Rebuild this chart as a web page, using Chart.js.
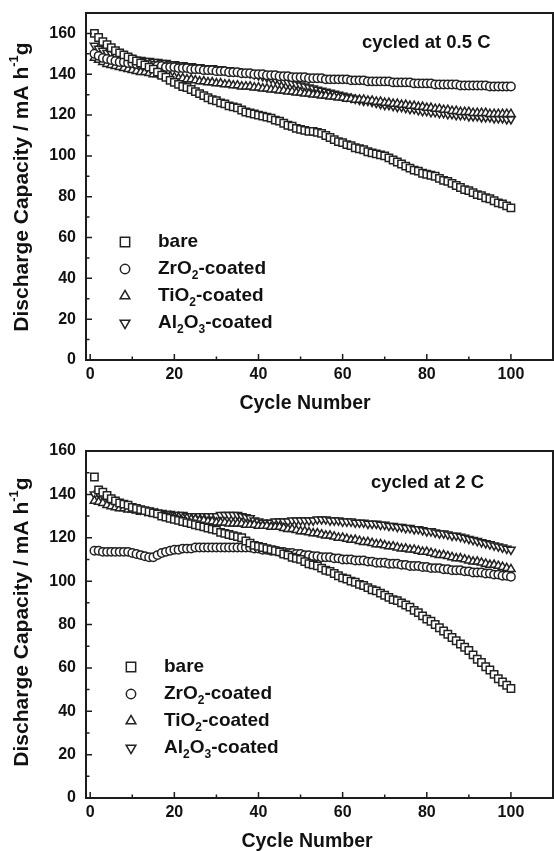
<!DOCTYPE html>
<html>
<head>
<meta charset="utf-8">
<script src="https://cdn.jsdelivr.net/npm/chart.js@4/dist/chart.umd.min.js"></script>
<style>
  body { margin: 0; background: #fff; }
  .panel { position: absolute; left: 0; }
  #top { top: 0; }
  #bottom { top: 420px; }
</style>
</head>
<body>
<div class="panel" id="top"><canvas id="c1" width="554" height="420"></canvas></div>
<div class="panel" id="bottom"><canvas id="c2" width="554" height="431"></canvas></div>
<script>
// cycle numbers (x) and axis ticks
var cycles = [1, 2, 3, 4, 5, 6, 7, 8, 9, 10, 11, 12, 13, 14, 15, 16, 17, 18, 19, 20,
  21, 22, 23, 24, 25, 26, 27, 28, 29, 30, 31, 32, 33, 34, 35, 36, 37, 38, 39, 40,
  41, 42, 43, 44, 45, 46, 47, 48, 49, 50, 51, 52, 53, 54, 55, 56, 57, 58, 59, 60,
  61, 62, 63, 64, 65, 66, 67, 68, 69, 70, 71, 72, 73, 74, 75, 76, 77, 78, 79, 80,
  81, 82, 83, 84, 85, 86, 87, 88, 89, 90, 91, 92, 93, 94, 95, 96, 97, 98, 99, 100]
var xTicks = [0, 20, 40, 60, 80, 100]
var yTicks = [0, 20, 40, 60, 80, 100, 120, 140, 160]
var seriesNames = ['bare', 'ZrO2-coated', 'TiO2-coated', 'Al2O3-coated']

// cycled at 0.5 C
var bare05 = [160, 158, 156, 154.5, 153, 151.5, 150.5, 149.5, 148.5, 147.5,
  146.5, 145.5, 144.5, 143.5, 142.5, 141, 139.5, 138.5, 137, 136,
  135, 134, 133.5, 132.5, 131.5, 130.5, 129.5, 128.5, 127.5, 127,
  126, 125.5, 124.5, 124, 123.5, 122.5, 121.5, 121, 120.5, 120,
  119.5, 119, 118.5, 117.5, 117, 116, 115, 114.5, 113.5, 113,
  112.5, 112, 112, 111.5, 111, 110, 109, 108, 107, 106.5,
  105.5, 105, 104, 103.5, 103, 102, 101.5, 101, 100.5, 100,
  99, 98, 97, 96, 95, 94, 93, 92.5, 91.5, 91,
  90.5, 90, 89, 88, 87.5, 86.5, 85.5, 84.5, 83.5, 83,
  82, 81, 80.5, 79.5, 79, 78, 77, 76.5, 75.5, 74.5]
var zro05 = [150, 149, 148, 147.5, 147, 146.5, 146, 146, 145.5, 145.5,
  145, 145, 144.5, 144.5, 144, 144, 144, 143.5, 143.5, 143.5,
  143, 143, 143, 142.5, 142.5, 142.5, 142, 142, 142, 141.5,
  141.5, 141.5, 141, 141, 141, 140.5, 140.5, 140.5, 140, 140,
  140, 139.5, 139.5, 139.5, 139, 139, 139, 138.5, 138.5, 138.5,
  138.5, 138, 138, 138, 138, 137.5, 137.5, 137.5, 137.5, 137.5,
  137.5, 137, 137, 137, 137, 136.5, 136.5, 136.5, 136.5, 136.5,
  136.5, 136, 136, 136, 136, 136, 135.5, 135.5, 135.5, 135.5,
  135.5, 135, 135, 135, 135, 135, 135, 134.5, 134.5, 134.5,
  134.5, 134.5, 134.5, 134.5, 134, 134, 134, 134, 134, 134]
var tio05 = [148, 147, 146, 145, 144.5, 144, 143.5, 143, 142.5, 142,
  141.5, 141, 141, 140.5, 140, 140, 139.5, 139, 139, 138.5,
  138, 138, 137.5, 137.5, 137, 136.5, 136.5, 136, 136, 135.5,
  135.5, 135, 135, 134.5, 134.5, 134, 134, 134, 133.5, 133.5,
  133, 133, 132.5, 132.5, 132, 132, 131.5, 131.5, 131, 131,
  130.5, 130.5, 130, 130, 129.5, 129.5, 129, 129, 128.5, 128.5,
  128, 128, 127.5, 127.5, 127.5, 127, 127, 126.5, 126.5, 126,
  126, 125.5, 125.5, 125, 125, 124.5, 124.5, 124, 124, 123.5,
  123.5, 123, 123, 122.5, 122.5, 122, 122, 121.5, 121.5, 121.5,
  121, 121, 121, 121, 120.5, 120.5, 120.5, 120.5, 120.5, 120.5]
var al05 = [154, 152.5, 151.5, 150.5, 150, 149.5, 149, 148.5, 148, 147.5,
  147, 147, 146.5, 146.5, 146, 146, 145.5, 145.5, 145, 145,
  144.5, 144.5, 144, 144, 143.5, 143.5, 143, 143, 143, 142.5,
  142.5, 142, 142, 141.5, 141.5, 141, 141, 140.5, 140, 139.5,
  139, 138.5, 138, 137.5, 137, 136.5, 136, 135.5, 135, 134.5,
  134, 133.5, 133, 132.5, 132, 131.5, 131, 130.5, 130, 129.5,
  129, 128.5, 128, 127.5, 127, 127, 126.5, 126, 125.5, 125,
  125, 124.5, 124, 124, 123.5, 123, 123, 122.5, 122, 122,
  121.5, 121.5, 121, 121, 120.5, 120.5, 120, 120, 120, 119.5,
  119.5, 119.5, 119, 119, 119, 118.5, 118.5, 118.5, 118, 118]

// cycled at 2 C
var bare2 = [148, 142, 141, 139.5, 138, 137, 136, 135.5, 135, 134,
  133.5, 133, 132.5, 132, 131.5, 131, 130, 129.5, 129, 128.5,
  128, 127.5, 127, 126.5, 126, 125.5, 125, 124.5, 124, 123.5,
  122.5, 122, 121.5, 121, 120.5, 120, 118.5, 117.5, 116.5, 116,
  115.5, 115, 114.5, 114, 113.5, 112.5, 112, 111, 110.5, 110,
  109, 108, 107.5, 107, 106, 105, 104.5, 103.5, 102.5, 101.5,
  101, 100, 99.5, 98.5, 98, 97, 96, 95.5, 94.5, 93.5,
  92.5, 91.5, 91, 90, 89, 88, 86.5, 85.5, 84, 82.5,
  81.5, 80, 78.5, 77, 75.5, 74, 72.5, 71, 69.5, 68,
  66, 64, 62.5, 60.5, 59, 57, 55, 53.5, 52, 50.5]
var zro2 = [114, 114, 113.5, 113.5, 113.5, 113.5, 113.5, 113.5, 113.5, 113,
  112.5, 112, 111.5, 111, 111, 112, 113, 113.5, 114, 114.5,
  114.5, 115, 115, 115, 115.5, 115.5, 115.5, 115.5, 115.5, 115.5,
  115.5, 115.5, 115.5, 115.5, 115.5, 115.5, 115.5, 115.5, 115, 115,
  114.5, 114.5, 114, 114, 113.5, 113.5, 113, 113, 112.5, 112.5,
  112, 112, 111.5, 111.5, 111, 111, 111, 110.5, 110.5, 110,
  110, 110, 109.5, 109.5, 109.5, 109, 109, 108.5, 108.5, 108.5,
  108, 108, 108, 107.5, 107.5, 107, 107, 107, 106.5, 106.5,
  106, 106, 106, 105.5, 105.5, 105, 105, 105, 104.5, 104.5,
  104, 104, 104, 103.5, 103.5, 103, 103, 102.5, 102.5, 102]
var tio2 = [137, 136.5, 136, 135, 134.5, 134, 133.5, 133.5, 133, 133,
  132.5, 132, 132, 131.5, 131, 131, 130.5, 130, 130, 129.5,
  129.5, 129, 129, 128.5, 128.5, 128, 128, 127.5, 127.5, 127,
  127, 127, 126.5, 126.5, 126.5, 126.5, 126, 126, 126, 125.5,
  125.5, 125.5, 125, 125, 125, 124.5, 124, 124, 123.5, 123,
  123, 122.5, 122, 122, 121.5, 121, 121, 120.5, 120, 120,
  119.5, 119, 119, 118.5, 118, 118, 117.5, 117, 117, 116.5,
  116, 116, 115.5, 115, 115, 114.5, 114.5, 114, 113.5, 113.5,
  113, 112.5, 112, 112, 111.5, 111, 110.5, 110.5, 110, 109.5,
  109, 109, 108.5, 108, 107.5, 107.5, 107, 106.5, 106, 105.5]
var al2 = [140, 140.5, 139.5, 138.5, 137.5, 136.5, 136, 135, 134.5, 134,
  133.5, 133, 132.5, 132.5, 132, 131.5, 131.5, 131, 131, 130.5,
  130.5, 130.5, 130, 130, 130, 130, 130, 130, 130, 130,
  130.5, 130.5, 130.5, 130.5, 130.5, 130, 129.5, 129, 128, 127.5,
  127, 127, 127, 127.5, 127.5, 127.5, 127.5, 128, 128, 128,
  128, 128, 128, 128.5, 128.5, 128.5, 128, 128, 128, 127.5,
  127.5, 127.5, 127, 127, 127, 126.5, 126.5, 126.5, 126, 126,
  125.5, 125.5, 125, 125, 124.5, 124.5, 124, 124, 123.5, 123,
  123, 122.5, 122, 122, 121.5, 121, 121, 120.5, 120, 119.5,
  119, 118.5, 118, 117.5, 117, 116.5, 116, 115.5, 115, 114.5]

var FONT = "'Liberation Sans', Arial, sans-serif"
var INK = '#1c1c1c'
var MARK = '#222'
var markers = [
  { style: 'rect', rot: 0, r: 5.2, lr: 6.6 },
  { style: 'circle', rot: 0, r: 4.2, lr: 4.7 },
  { style: 'triangle', rot: 0, r: 4.8, lr: 5.6 },
  { style: 'triangle', rot: 180, r: 4.8, lr: 5.6 }
]

// text with chemical subscripts / superscripts, parts = [[text, shift]]
function richParts (name) {
  return name.split(/(\d+)/).filter(function (s) { return s.length }).map(function (s) {
    return [s, /^\d+$/.test(s) ? -1 : 0]
  })
}

function drawRich (ctx, parts, x, y, size, align) {
  var small = Math.round(size * 0.62)
  var w = 0
  parts.forEach(function (p) {
    ctx.font = 'bold ' + (p[1] ? small : size) + 'px ' + FONT
    w += ctx.measureText(p[0]).width
  })
  var cx = align === 'center' ? x - w / 2 : x
  ctx.textBaseline = 'middle'
  ctx.textAlign = 'left'
  parts.forEach(function (p) {
    ctx.font = 'bold ' + (p[1] ? small : size) + 'px ' + FONT
    var dy = p[1] > 0 ? -size * 0.38 : (p[1] < 0 ? size * 0.33 : 0)
    ctx.fillText(p[0], cx, y + dy)
    cx += ctx.measureText(p[0]).width
  })
}

function drawMarker (ctx, m, x, y, r) {
  ctx.beginPath()
  if (m.style === 'rect') {
    var s = r * Math.SQRT1_2
    ctx.rect(x - s, y - s, 2 * s, 2 * s)
  } else if (m.style === 'circle') {
    ctx.arc(x, y, r, 0, Math.PI * 2)
  } else {
    var dir = m.rot ? -1 : 1
    ctx.moveTo(x, y - dir * r)
    ctx.lineTo(x + r * 0.866, y + dir * r / 2)
    ctx.lineTo(x - r * 0.866, y + dir * r / 2)
    ctx.closePath()
  }
  ctx.fillStyle = '#fff'
  ctx.fill()
  ctx.stroke()
}

function makePanel (canvasId, series, p) {
  var decor = {
    id: 'decor',
    afterDraw: function (chart) {
      var ctx = chart.ctx
      var a = chart.chartArea
      var xs = chart.scales.x
      var ys = chart.scales.y
      ctx.save()
      ctx.strokeStyle = INK
      ctx.fillStyle = INK
      // inward ticks
      ctx.lineWidth = 1.5
      ctx.beginPath()
      for (var i = 0; i < xTicks.length; i++) {
        var px = xs.getPixelForValue(xTicks[i])
        ctx.moveTo(px, a.bottom); ctx.lineTo(px, a.bottom - 6)
        var mx = xs.getPixelForValue(xTicks[i] + 10)
        ctx.moveTo(mx, a.bottom); ctx.lineTo(mx, a.bottom - 3.5)
      }
      for (var j = 0; j < yTicks.length; j++) {
        var py = ys.getPixelForValue(yTicks[j])
        ctx.moveTo(a.left, py); ctx.lineTo(a.left + 6, py)
        if (yTicks[j] + 10 < ys.max) {
          var my = ys.getPixelForValue(yTicks[j] + 10)
          ctx.moveTo(a.left, my); ctx.lineTo(a.left + 3.5, my)
        }
      }
      ctx.stroke()
      // frame
      ctx.lineWidth = 2
      ctx.strokeRect(a.left, a.top, a.right - a.left, a.bottom - a.top)
      // axis titles
      ctx.fillStyle = '#111'
      drawRich(ctx, [['Cycle Number', 0]], p.xTitle[0], p.xTitle[1], 19.5, 'center')
      ctx.save()
      ctx.translate(p.yTitle[0], p.yTitle[1])
      ctx.rotate(-Math.PI / 2)
      drawRich(ctx, [['Discharge Capacity / mA h', 0], ['-1', 1], ['g', 0]], 0, 0, 21, 'center')
      ctx.restore()
      // rate note
      drawRich(ctx, [[p.note, 0]], p.notePos[0], p.notePos[1], 18.5, 'left')
      // legend
      ctx.lineWidth = 1.5
      ctx.strokeStyle = MARK
      for (var k = 0; k < seriesNames.length; k++) {
        var ly = p.legend[1] + k * 27
        drawMarker(ctx, markers[k], p.legend[0], ly, markers[k].lr)
        ctx.fillStyle = '#111'
        drawRich(ctx, richParts(seriesNames[k]), p.legend[2], ly, 19, 'left')
      }
      ctx.restore()
    }
  }

  var datasets = series.map(function (vals, k) {
    return {
      label: seriesNames[k],
      data: vals.map(function (v, i) { return { x: cycles[i], y: v } }),
      pointStyle: markers[k].style,
      rotation: markers[k].rot,
      pointRadius: markers[k].r,
      pointBorderWidth: 1.5,
      pointBorderColor: MARK,
      pointBackgroundColor: '#fff',
      showLine: false
    }
  })

  var tickFont = { family: FONT, size: 16, weight: 'bold' }

  new Chart(document.getElementById(canvasId), {
    type: 'scatter',
    data: { datasets: datasets },
    options: {
      responsive: false,
      animation: false,
      layout: { autoPadding: false, padding: { top: p.padTop, right: 1, left: 0, bottom: 0 } },
      plugins: { legend: { display: false }, tooltip: { enabled: false } },
      scales: {
        x: {
          type: 'linear',
          min: -1,
          max: 110,
          grid: { display: false, drawTicks: false },
          border: { display: false },
          ticks: { font: tickFont, color: '#111', padding: 5 },
          afterBuildTicks: function (s) { s.ticks = xTicks.map(function (v) { return { value: v } }) },
          afterFit: function (s) {
            s.height = p.xAxisH
            s.paddingLeft = 0
            s.paddingRight = 0
          }
        },
        y: {
          min: 0,
          max: p.yMax,
          grid: { display: false, drawTicks: false },
          border: { display: false },
          ticks: { font: tickFont, color: '#111', padding: 10 },
          afterBuildTicks: function (s) { s.ticks = yTicks.map(function (v) { return { value: v } }) },
          afterFit: function (s) {
            s.width = 86
            s.paddingTop = 0
            s.paddingBottom = 0
          }
        }
      }
    },
    plugins: [decor]
  })
}

makePanel('c1', [bare05, zro05, tio05, al05], {
  yMax: 170,
  padTop: 13,
  xAxisH: 60,
  note: 'cycled at 0.5 C',
  notePos: [362, 43],
  xTitle: [305, 404],
  yTitle: [22, 187],
  legend: [125, 242, 158]
})

makePanel('c2', [bare2, zro2, tio2, al2], {
  yMax: 160,
  padTop: 31,
  xAxisH: 53,
  note: 'cycled at 2 C',
  notePos: [371, 63],
  xTitle: [307, 422],
  yTitle: [22, 202],
  legend: [131, 247, 164]
})
</script>
</body>
</html>
